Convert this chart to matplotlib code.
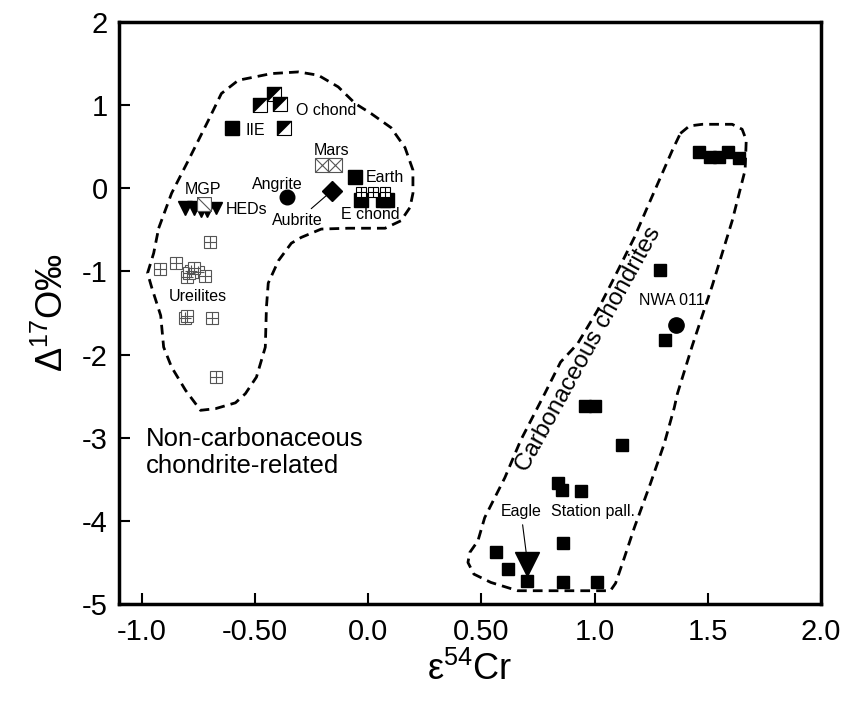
import matplotlib
matplotlib.use("Agg")
import matplotlib.pyplot as plt
from matplotlib.path import Path

plt.rcParams['font.family'] = ['Liberation Sans', 'DejaVu Sans']
plt.rcParams['mathtext.fontset'] = 'custom'
plt.rcParams['mathtext.rm'] = 'Liberation Sans'
plt.rcParams['mathtext.it'] = 'Liberation Sans:italic'
plt.rcParams['axes.unicode_minus'] = False

# --- data (eps54Cr, D17O) ---
o_chond_x = [-0.476, -0.414, -0.388, -0.370]
o_chond_y = [1.00, 1.13, 1.01, 0.73]
iie_x, iie_y = [-0.60], [0.72]
mars_x, mars_y = [-0.205, -0.145], [0.28, 0.28]
earth_x, earth_y = [-0.06], [0.14]
e_chond_x = [-0.03, 0.065, 0.085]
e_chond_y = [-0.14, -0.14, -0.14]
e_chond_top_x = [-0.03, 0.02, 0.075]
e_chond_top_y = [-0.04, -0.04, -0.04]
angrite_x, angrite_y = [-0.36], [-0.10]
aubrite_x, aubrite_y = [-0.16], [-0.03]
mgp_x, mgp_y = [-0.81, -0.77], [-0.24, -0.24]
hed_tri_x, hed_tri_y = [-0.74, -0.71, -0.67], [-0.27, -0.27, -0.24]
hed_sq_x, hed_sq_y = [-0.725], [-0.19]
ureilite_x = [-0.70, -0.92, -0.85, -0.78, -0.80, -0.75, -0.72, -0.79, -0.77,
              -0.81, -0.80, -0.69, -0.67]
ureilite_y = [-0.65, -0.97, -0.90, -0.99, -1.07, -1.01, -1.06, -1.02, -0.96,
              -1.56, -1.54, -1.56, -2.27]
cc_x = [1.46, 1.51, 1.55, 1.59, 1.64, 1.29, 1.31, 0.96, 1.00, 1.12, 0.84,
        0.855, 0.94, 0.86, 0.565, 0.62, 0.70, 0.86, 1.01]
cc_y = [0.44, 0.38, 0.38, 0.44, 0.37, -0.98, -1.83, -2.62, -2.62, -3.09,
        -3.54, -3.63, -3.64, -4.26, -4.37, -4.58, -4.72, -4.74, -4.74]
nwa_x, nwa_y = [1.36], [-1.64]
eagle_x, eagle_y = [0.70], [-4.52]

nc_field_x = [-0.925, -0.868, -0.793, -0.705, -0.648, -0.573, -0.427, -0.308,
              -0.220, -0.132, -0.057, 0.013, 0.101, 0.163, 0.198, 0.198, 0.185,
              0.145, 0.075, -0.088, -0.207, -0.295, -0.339, -0.396, -0.441,
              -0.449, -0.454, -0.493, -0.542, -0.586, -0.674, -0.740, -0.806,
              -0.868, -0.903, -0.916, -0.956, -0.974, -0.947, -0.925]
nc_field_y = [-0.48, -0.06, 0.34, 0.82, 1.14, 1.30, 1.38, 1.40, 1.36, 1.22,
              1.02, 0.90, 0.73, 0.49, 0.22, -0.06, -0.23, -0.39, -0.48, -0.48,
              -0.49, -0.59, -0.66, -0.87, -1.14, -1.43, -1.91, -2.27, -2.47,
              -2.58, -2.65, -2.67, -2.43, -2.15, -1.91, -1.53, -1.19, -1.02,
              -0.78, -0.48]
cc_field_x = [1.379, 1.419, 1.476, 1.608, 1.652, 1.670, 1.665, 1.608, 1.520,
              1.432, 1.366, 1.352, 1.308, 1.247, 1.176, 1.132, 1.093, 1.070,
              0.661, 0.542, 0.467, 0.441, 0.449, 0.485, 0.515, 0.604, 0.674,
              0.780, 0.850, 0.925, 1.013, 1.088, 1.176, 1.233, 1.291, 1.344,
              1.379]
cc_field_y = [0.66, 0.75, 0.77, 0.77, 0.71, 0.58, 0.22, -0.39, -1.17, -1.89,
              -2.47, -2.64, -3.07, -3.55, -4.08, -4.44, -4.75, -4.84, -4.84,
              -4.74, -4.64, -4.50, -4.38, -4.24, -3.96, -3.48, -3.03, -2.47,
              -2.09, -1.87, -1.47, -1.07, -0.59, -0.23, 0.13, 0.46, 0.66]

xticks = [-1.0, -0.5, 0.0, 0.5, 1.0, 1.5, 2.0]
xtick_labels = ["-1.0", "-0.50", "0.0", "0.50", "1.0", "1.5", "2.0"]
yticks = [-5, -4, -3, -2, -1, 0, 1, 2]

# custom marker shapes
upper_left_tri = Path([(-1, -1), (-1, 1), (1, 1), (-1, -1)])
square_diag = Path([(-1, -1), (-1, 1), (1, 1), (1, -1), (-1, -1), (-1, 1), (1, -1)],
                   [Path.MOVETO, Path.LINETO, Path.LINETO, Path.LINETO, Path.LINETO,
                    Path.MOVETO, Path.LINETO])

fig = plt.figure(figsize=(8.46, 7.04), dpi=100)
ax = fig.add_axes([0.1407, 0.142, 0.8297, 0.8267])

dash = (0, (3.5, 2.2))
ax.plot(nc_field_x, nc_field_y, color='black', lw=2, linestyle=dash)
ax.plot(cc_field_x, cc_field_y, color='black', lw=2, linestyle=dash)

# ureilites
ax.plot(ureilite_x, ureilite_y, 's', ms=8, mfc='white', mec='#555555', mew=0.8)
ax.plot(ureilite_x, ureilite_y, '+', ms=8, mec='#555555', mew=0.8)

# O chondrites: half filled squares
ax.plot(o_chond_x, o_chond_y, 's', ms=10.5, mfc='white', mec='black', mew=0.8)
ax.plot(o_chond_x, o_chond_y, marker=upper_left_tri, ls='none', ms=10.5,
        mfc='black', mec='black', mew=0.5)

ax.plot(iie_x, iie_y, 's', ms=10.5, color='black')
ax.plot(earth_x, earth_y, 's', ms=10.5, color='black')

# Mars
ax.plot(mars_x, mars_y, 's', ms=10, mfc='white', mec='#555555', mew=0.8)
ax.plot(mars_x, mars_y, 'x', ms=10, mec='#555555', mew=0.8)

# E chondrites
ax.plot(e_chond_x, e_chond_y, 's', ms=10, color='black')
ax.plot(e_chond_top_x, e_chond_top_y, 's', ms=7, mfc='white', mec='black', mew=0.8)
ax.plot(e_chond_top_x, e_chond_top_y, '+', ms=7, mec='black', mew=0.8)

ax.plot(angrite_x, angrite_y, 'o', ms=10.5, color='black')
ax.plot(aubrite_x, aubrite_y, 'D', ms=10, color='black')

# MGP and HEDs
ax.plot(mgp_x, mgp_y, 'v', ms=10, color='black')
ax.plot(hed_tri_x, hed_tri_y, 'v', ms=9, color='black')
ax.plot(hed_sq_x, hed_sq_y, 's', ms=10, mfc='white', mec='none')
ax.plot(hed_sq_x, hed_sq_y, marker=square_diag, ls='none', ms=10,
        mfc='none', mec='#555555', mew=0.8)

# carbonaceous
ax.plot(cc_x, cc_y, 's', ms=8.6, color='black')
ax.plot(nwa_x, nwa_y, 'o', ms=11, color='black')
ax.plot(eagle_x, eagle_y, 'v', ms=17, color='black')

lab = dict(fontsize=11.5, ha='center', va='center')
ax.text(-0.185, 0.93, "O chond", **lab)
ax.text(-0.543, 0.69, "IIE", fontsize=11.5, ha='left', va='center')
ax.text(-0.163, 0.45, "Mars", **lab)
ax.text(-0.01, 0.13, "Earth", fontsize=11.5, ha='left', va='center')
ax.text(0.01, -0.32, "E chond", **lab)
ax.text(-0.40, 0.05, "Angrite", **lab)
ax.text(-0.728, -0.02, "MGP", **lab)
ax.text(-0.627, -0.26, "HEDs", fontsize=11.5, ha='left', va='center')
ax.text(-0.75, -1.30, "Ureilites", **lab)
ax.text(1.342, -1.35, "NWA 011", **lab)
ax.text(0.993, -3.89, "Station pall.", **lab)
ax.annotate("Aubrite", xy=(aubrite_x[0], aubrite_y[0]), xytext=(-0.313, -0.39),
            fontsize=11.5, ha='center', va='center',
            arrowprops=dict(arrowstyle='-', lw=0.8, color='black', shrinkA=2, shrinkB=3))
ax.annotate("Eagle", xy=(eagle_x[0], eagle_y[0] + 0.1), xytext=(0.675, -3.89),
            fontsize=11.5, ha='center', va='center',
            arrowprops=dict(arrowstyle='-', lw=0.8, color='black', shrinkA=2, shrinkB=0))

ax.text(-0.98, -3.18, "Non-carbonaceous\nchondrite-related", fontsize=18.5,
        ha='left', va='center', linespacing=1.15)
ax.text(0.976, -1.94, "Carbonaceous chondrites", fontsize=17.5, rotation=61,
        rotation_mode='anchor', ha='center', va='center')

ax.set_xlim(-1.1, 2.0)
ax.set_ylim(-5, 2)
ax.set_xticks(xticks)
ax.set_xticklabels(xtick_labels)
ax.set_yticks(yticks)
ax.tick_params(direction='in', length=8, width=1.5, labelsize=21)
ax.tick_params(axis='x', pad=10)
ax.tick_params(axis='y', pad=8)
for s in ax.spines.values():
    s.set_linewidth(2.5)

ax.set_xlabel("ε$^{54}$Cr", fontsize=26, labelpad=4)
ax.set_ylabel("Δ$^{17}$O‰", fontsize=26, labelpad=8)

fig.savefig("out.png", dpi=100)
